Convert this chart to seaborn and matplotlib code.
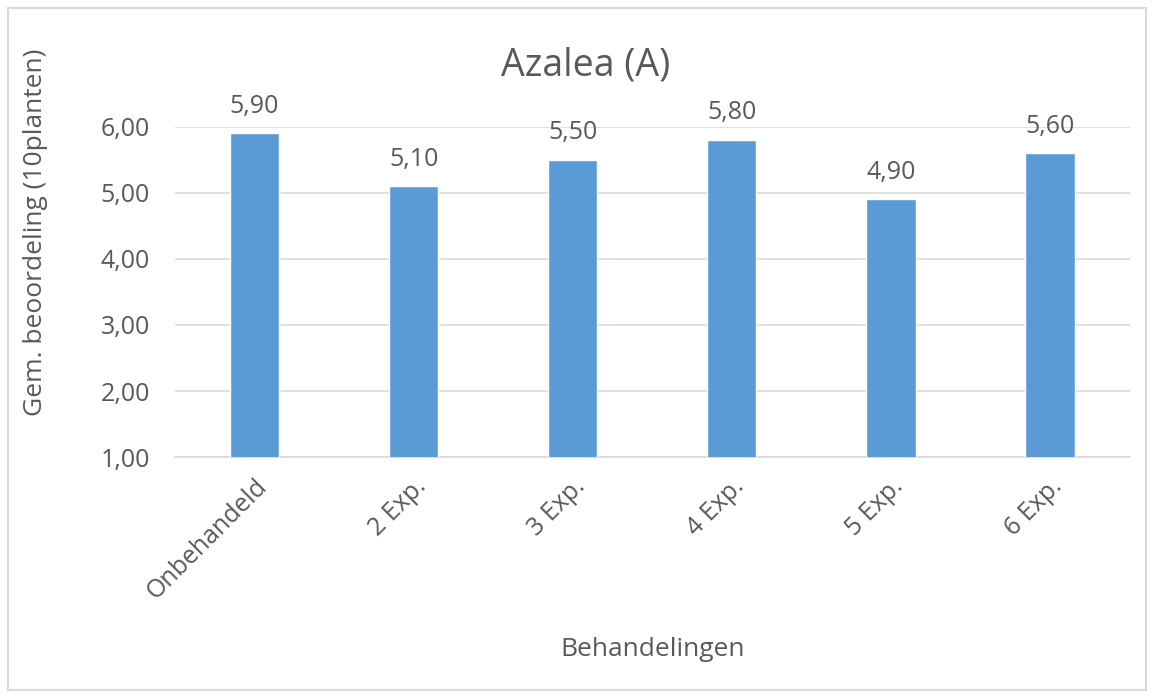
import matplotlib
matplotlib.use('Agg')
import matplotlib.pyplot as plt
import seaborn as sns
from matplotlib.patches import Rectangle

# Data
behandelingen = ['Onbehandeld', '2 Exp.', '3 Exp.', '4 Exp.', '5 Exp.', '6 Exp.']
beoordeling = [5.90, 5.10, 5.50, 5.80, 4.90, 5.60]
y_ticks = [1, 2, 3, 4, 5, 6]

sns.set_theme(style='white')
plt.rcParams['font.family'] = ['Open Sans', 'DejaVu Sans']

bar_color = '#5B9BD5'
text_color = '#595959'
grid_color = '#D9D9D9'

fig = plt.figure(figsize=(11.55, 7), dpi=100)
ax = fig.add_axes([0.1515, 0.347, 0.8265, 0.472])

sns.barplot(x=behandelingen, y=beoordeling, color=bar_color, width=0.31,
            saturation=1, ax=ax, zorder=3)

ax.set_ylim(1, 6)
ax.set_yticks(y_ticks)
ax.set_yticklabels([f'{t:.2f}'.replace('.', ',') for t in y_ticks],
                   fontsize=18, color=text_color)
ax.set_xlim(-0.5, len(behandelingen) - 0.5)
ax.yaxis.grid(True, color=grid_color, linewidth=1.2, zorder=0)
ax.set_axisbelow(True)
for s in ['top', 'right', 'left']:
    ax.spines[s].set_visible(False)
ax.spines['bottom'].set_color(grid_color)
ax.spines['bottom'].set_linewidth(1.2)
ax.tick_params(axis='y', length=0, pad=18)
ax.tick_params(axis='x', length=0, pad=12)

ax.set_xticks(range(len(behandelingen)))
ax.set_xticklabels(behandelingen, rotation=45, ha='right',
                   rotation_mode='anchor', fontsize=18, color=text_color)

# Value labels
for i, v in enumerate(beoordeling):
    ax.text(i, v + 0.22, f'{v:.2f}'.replace('.', ','), ha='center', va='bottom',
            fontsize=18, color=text_color, clip_on=False)

# Title centred over the whole chart, like Excel does
fig.text(0.507, 0.907, 'Azalea (A)', fontsize=27, color=text_color,
         ha='center', va='center')
ax.set_xlabel('Behandelingen', fontsize=19, color=text_color, labelpad=24)
ax.set_ylabel('Gem. beoordeling (10planten)', fontsize=19, color=text_color)
ax.yaxis.set_label_coords(-0.133, 0.68)

# Light chart border
fig.patches.append(Rectangle((0.007, 0.014), 0.985, 0.974, transform=fig.transFigure,
                             fill=False, edgecolor=grid_color, linewidth=1.5))

fig.savefig('out.png', dpi=100)
